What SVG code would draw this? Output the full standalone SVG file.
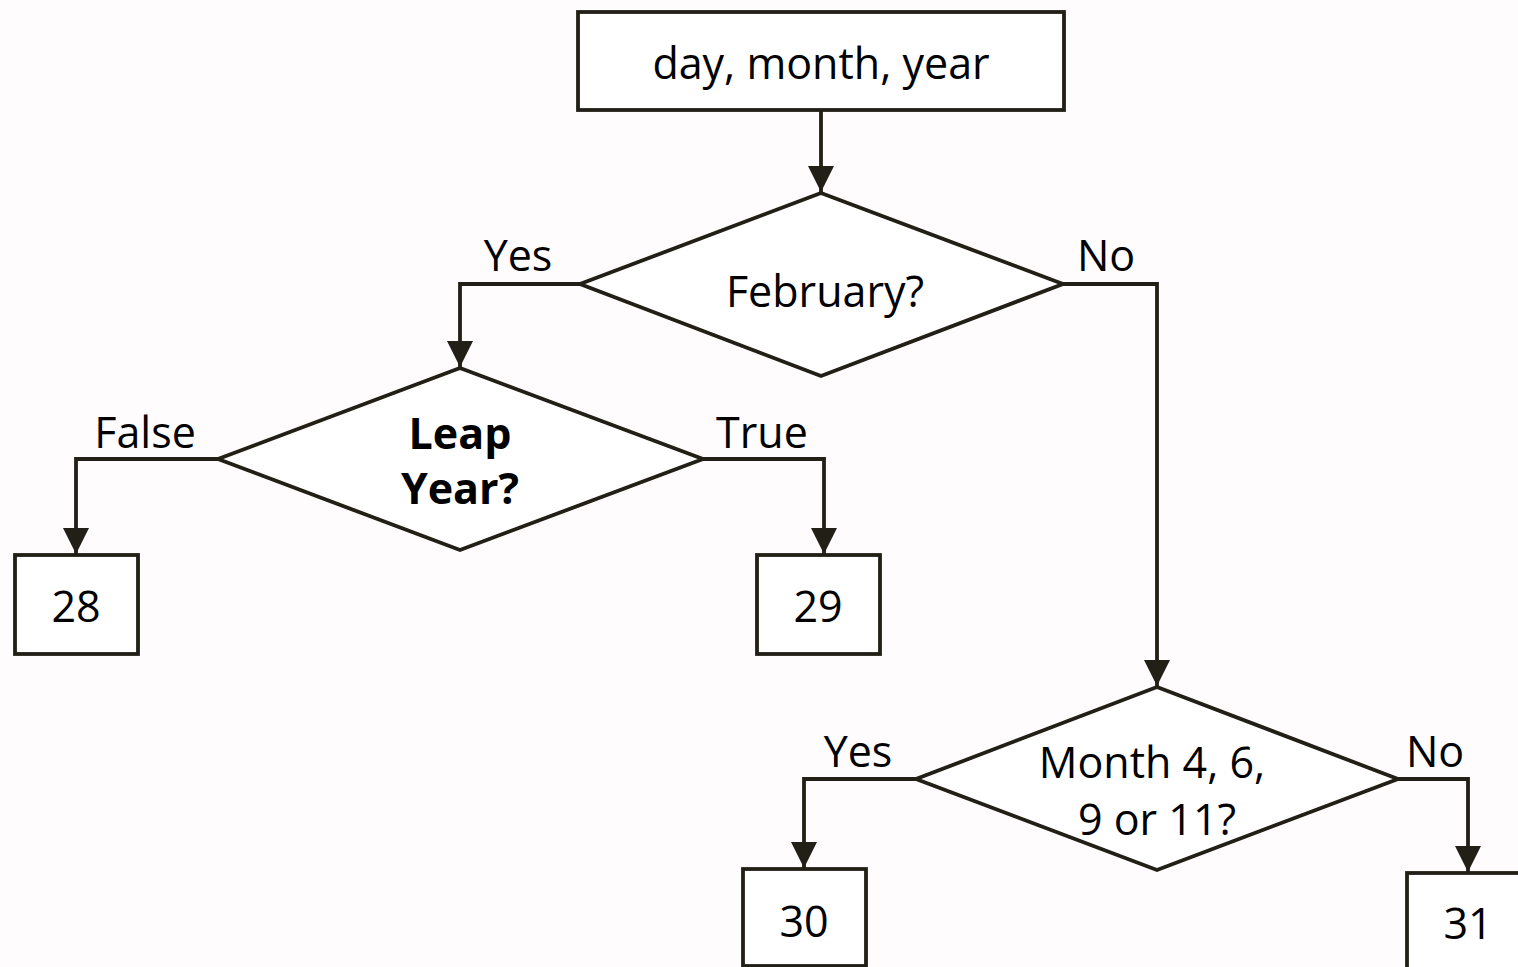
<svg xmlns="http://www.w3.org/2000/svg" width="1518" height="967" viewBox="0 0 1518 967">
  <style>
    .shape { fill: #ffffff; stroke: #221f16; stroke-width: 3.8; stroke-linejoin: miter; }
    .link { fill: none; stroke: #221f16; stroke-width: 3.8; }
    text { font-family: "Open Sans", "Noto Sans", "DejaVu Sans", sans-serif; fill: #000000; text-anchor: middle; }
    .node-text { font-size: 43px; }
    .label { font-size: 43px; }
    .bold { font-weight: bold; }
  </style>
  <defs>
    <marker id="arrow" viewBox="0 0 26 26" refX="26" refY="13" markerWidth="26" markerHeight="26" markerUnits="userSpaceOnUse" orient="auto">
      <path d="M0,0 L26,13 L0,26 Z" fill="#221f16"/>
    </marker>
  </defs>
  <rect width="1518" height="967" fill="#fefcfd"/>

  <g id="connectors">
    <path class="link" d="M821,110 V192" marker-end="url(#arrow)"/>
    <path class="link" d="M580,284 H460 V367" marker-end="url(#arrow)"/>
    <path class="link" d="M1063,284 H1157 V686" marker-end="url(#arrow)"/>
    <path class="link" d="M218,459 H76 V554" marker-end="url(#arrow)"/>
    <path class="link" d="M703,459 H824 V554" marker-end="url(#arrow)"/>
    <path class="link" d="M916,779 H804 V868" marker-end="url(#arrow)"/>
    <path class="link" d="M1398,779 H1468 V872" marker-end="url(#arrow)"/>
    <text class="label" x="518" y="271">Yes</text>
    <text class="label" x="1106" y="271">No</text>
    <text class="label" x="145" y="448">False</text>
    <text class="label" x="762" y="448">True</text>
    <text class="label" x="858" y="767">Yes</text>
    <text class="label" x="1435" y="767">No</text>
  </g>

  <g id="start">
    <rect class="shape" x="578" y="12" width="486" height="98"/>
    <text class="node-text" x="821" y="79">day, month, year</text>
  </g>

  <g id="february">
    <polygon class="shape" points="821,193 1063,284 821,376 580,284"/>
    <text class="node-text" x="825" y="307">February?</text>
  </g>

  <g id="leap-year">
    <polygon class="shape" points="460,368 703,459 460,550 218,459"/>
    <text class="node-text bold" x="460" y="449">Leap</text>
    <text class="node-text bold" x="460" y="504">Year?</text>
  </g>

  <g id="days-28">
    <rect class="shape" x="15" y="555" width="123" height="99"/>
    <text class="node-text" x="76" y="622">28</text>
  </g>

  <g id="days-29">
    <rect class="shape" x="757" y="555" width="123" height="99"/>
    <text class="node-text" x="818" y="622">29</text>
  </g>

  <g id="short-months">
    <polygon class="shape" points="1157,687 1398,779 1157,870 916,779"/>
    <text class="node-text" x="1152" y="778">Month 4, 6,</text>
    <text class="node-text" x="1157" y="835">9 or 11?</text>
  </g>

  <g id="days-30">
    <rect class="shape" x="743" y="869" width="123" height="97"/>
    <text class="node-text" x="804" y="937">30</text>
  </g>

  <g id="days-31">
    <rect class="shape" x="1407" y="873" width="130" height="110"/>
    <text class="node-text" x="1468" y="939">31</text>
  </g>
</svg>
